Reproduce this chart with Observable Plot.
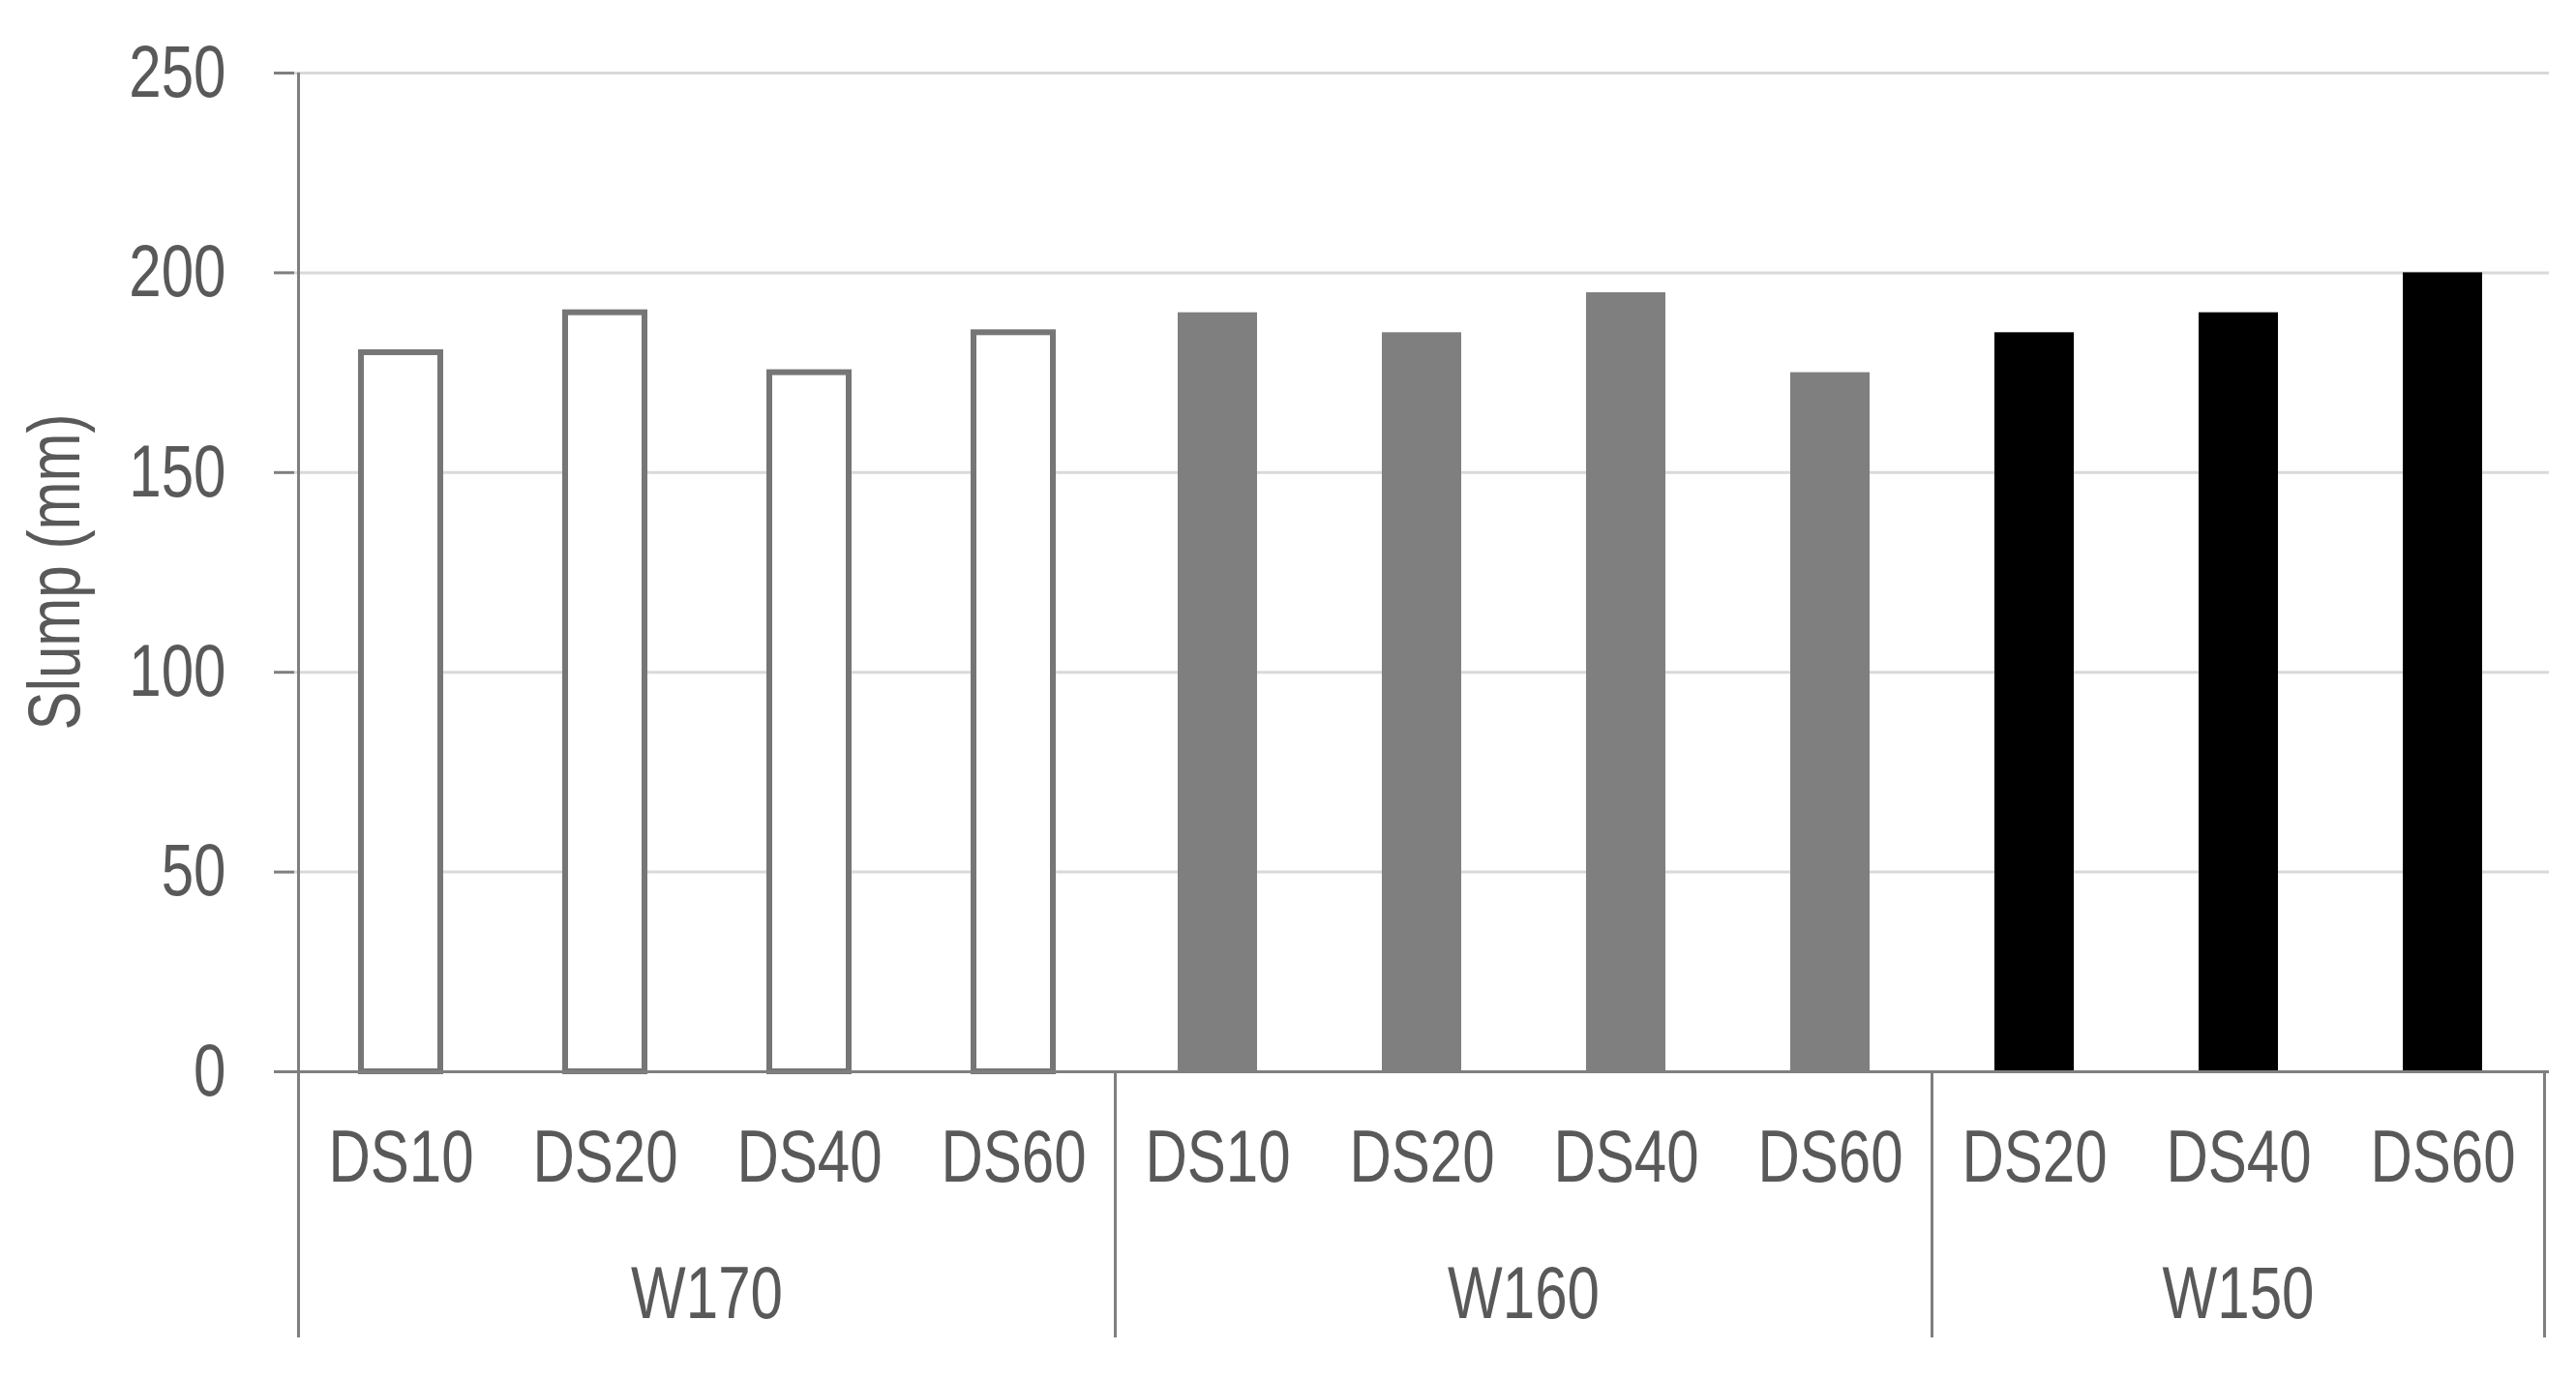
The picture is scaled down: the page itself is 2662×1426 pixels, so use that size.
<!DOCTYPE html>
<html>
<head>
<meta charset="utf-8">
<script src="https://cdn.jsdelivr.net/npm/d3@7"></script>
<script src="https://cdn.jsdelivr.net/npm/@observablehq/plot@0.6"></script>
<style>
  html, body { margin: 0; padding: 0; background: #ffffff; }
  #chart { width: 2662px; height: 1426px; }
</style>
</head>
<body>
<div id="chart"></div>
<script>
// ---- data ----
const groups = ["W170", "W170", "W170", "W170", "W160", "W160", "W160", "W160", "W150", "W150", "W150"];
const mixes  = ["DS10", "DS20", "DS40", "DS60", "DS10", "DS20", "DS40", "DS60", "DS20", "DS40", "DS60"];
const slump  = [180, 190, 175, 185, 190, 185, 195, 175, 185, 190, 200];
const groupNames = ["W170", "W160", "W150"];
const yTicks = [0, 50, 100, 150, 200, 250];
const yLabel = "Slump (mm)";

const data = mixes.map((m, i) => ({key: groups[i] + "|" + m, group: groups[i], mix: m, slump: slump[i]}));
const keys = data.map(d => d.key);

const FONT = "'Liberation Sans Narrow', 'Arial Narrow', 'Liberation Sans', Arial, sans-serif";
const TEXT = "#595959";
const AXIS = "#7f7f7f";
const CONDENSE = 0.79; // the reference uses a narrow face; squeeze glyphs to match

const chart = Plot.plot({
  width: 2662,
  height: 1426,
  marginLeft: 304,
  marginRight: 28,
  marginTop: 75,
  marginBottom: 319,
  style: {fontFamily: FONT, fontSize: "76px", color: TEXT, background: "#ffffff", overflow: "visible"},
  x: {domain: keys, paddingInner: 0.61, paddingOuter: 0.305, axis: null},
  y: {domain: [0, 250], axis: null},
  marks: [
    Plot.ruleY(yTicks.filter(t => t > 0), {stroke: "#d9d9d9", strokeWidth: 3}),
    Plot.barY(data.filter(d => d.group === "W170"), {x: "key", y: "slump", fill: "#ffffff", stroke: "#767676", strokeWidth: 6}),
    Plot.barY(data.filter(d => d.group === "W160"), {x: "key", y: "slump", fill: "#7f7f7f"}),
    Plot.barY(data.filter(d => d.group === "W150"), {x: "key", y: "slump", fill: "#000000"}),
    Plot.ruleY([0], {stroke: AXIS, strokeWidth: 3}),
    Plot.axisY({ticks: yTicks, tickSize: 21, tickPadding: 50, stroke: AXIS, strokeWidth: 3, label: null, fontSize: 76}),
    Plot.axisX({tickSize: 0, tickPadding: 60, tickFormat: k => k.split("|")[1], label: null, fontSize: 76})
  ]
});

document.getElementById("chart").appendChild(chart);

const svg = d3.select(chart);

// condense every Plot label (narrow typeface look)
svg.selectAll("text").each(function () {
  const len = this.getComputedTextLength();
  if (len > 0) {
    this.setAttribute("textLength", (len * CONDENSE).toFixed(1));
    this.setAttribute("lengthAdjust", "spacingAndGlyphs");
  }
});

// ---- category-axis separators, group labels and y title, placed from Plot's own scales ----
const sx = chart.scale("x");
const sy = chart.scale("y");
const half = (sx.step - sx.bandwidth) / 2;
const y0 = sy.apply(0);
const yTop = sy.apply(250);
const yBottom = y0 + 275;
const g = svg.append("g");

const leftEdge = sx.apply(keys[0]) - half;
g.append("line").attr("x1", leftEdge).attr("x2", leftEdge).attr("y1", yTop).attr("y2", yBottom)
  .attr("stroke", AXIS).attr("stroke-width", 3);

groupNames.forEach(name => {
  const ks = data.filter(d => d.group === name).map(d => d.key);
  const start = sx.apply(ks[0]) - half;
  const end = sx.apply(ks[ks.length - 1]) + sx.bandwidth + half;
  g.append("line").attr("x1", end).attr("x2", end).attr("y1", y0).attr("y2", yBottom)
    .attr("stroke", AXIS).attr("stroke-width", 3);
  g.append("text")
    .attr("transform", `translate(${(start + end) / 2},${y0 + 255}) scale(${CONDENSE},1)`)
    .attr("text-anchor", "middle")
    .attr("fill", TEXT)
    .attr("font-family", FONT)
    .attr("font-size", 76)
    .text(name);
});

g.append("text")
  .attr("transform", `translate(${leftEdge - 253},${(yTop + y0) / 2}) rotate(-90) scale(${CONDENSE},1)`)
  .attr("text-anchor", "middle")
  .attr("dy", "0.35em")
  .attr("fill", TEXT)
  .attr("font-family", FONT)
  .attr("font-size", 76)
  .text(yLabel);
</script>
</body>
</html>
